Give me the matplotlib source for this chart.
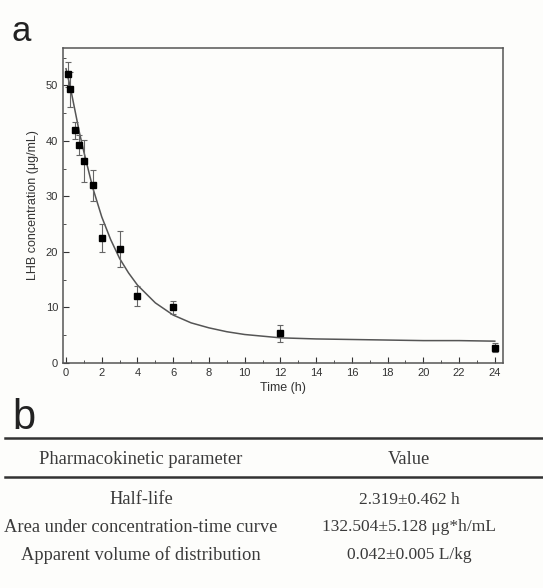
import matplotlib.pyplot as plt
import numpy as np

# measured LHB concentration (ug/mL) with SD
t = [0.083, 0.25, 0.5, 0.75, 1, 1.5, 2, 3, 4, 6, 12, 24]
conc = [52.0, 49.3, 41.9, 39.2, 36.3, 32.0, 22.5, 20.5, 12.1, 10.0, 5.3, 2.7]
sd = [2.3, 3.2, 1.5, 1.8, 3.8, 2.8, 2.5, 3.3, 1.8, 1.2, 1.5, 0.8]

# fitted curve
fit_t = [0, 0.25, 0.5, 0.75, 1, 1.5, 2, 2.5, 3, 3.5, 4, 5, 6, 7, 8, 9, 10, 11, 12, 14, 16, 18, 20, 22, 24]
fit_c = [53.0, 49.5, 45.5, 41.5, 38.0, 31.5, 26.3, 22.2, 18.8, 16.2, 14.0, 10.8, 8.6, 7.2, 6.3, 5.6, 5.1, 4.8, 4.5, 4.3, 4.2, 4.1, 4.0, 4.0, 3.9]

# table
params = ["Half-life", "Area under concentration-time curve", "Apparent volume of distribution"]
values = ["2.319\u00b10.462 h", "132.504\u00b15.128 \u03bcg*h/mL", "0.042\u00b10.005 L/kg"]

plt.rcParams['font.family'] = ['Liberation Sans', 'DejaVu Sans']

fig = plt.figure(figsize=(5.43, 5.88), dpi=100)
fig.patch.set_facecolor("#fdfdfb")
ax = fig.add_axes([0.116, 0.383, 0.810, 0.535])
ax.set_facecolor("#fdfdfb")

ax.plot(fit_t, fit_c, c="#555555", lw=1.1, zorder=2)
ax.errorbar(t, conc, yerr=sd, fmt="s", color="black", ms=5, ecolor="#666666",
            elinewidth=0.8, capsize=2.5, capthick=0.8, zorder=3)

ax.set_xlim(-0.17, 24.45)
ax.set_ylim(0, 56.7)
ax.set_xticks(range(0, 25, 2))
ax.set_xticks(range(0, 25, 1), minor=True)
ax.set_yticks(range(0, 51, 10))
ax.set_yticks(range(5, 56, 10), minor=True)
ax.tick_params(which="both", direction="in", top=False, right=False, labelsize=8, colors="#333333")
ax.tick_params(which="major", length=4)
ax.tick_params(which="minor", length=2.5)
for s in ax.spines.values():
    s.set_color("#555555")
    s.set_linewidth(1.1)
ax.set_xlabel("Time (h)", fontsize=9, color="#333333", labelpad=3)
ax.set_ylabel("LHB concentration (\u03bcg/mL)", fontsize=9, color="#333333", labelpad=5)

fig.text(0.022, 0.93, "a", fontsize=25, color="#222222")
fig.text(0.022, 0.27, "b", fontsize=30, color="#222222")

# table lines
H = 588
for y, lw in [(437.7, 1.8), (477, 1.8)]:
    fig.add_artist(plt.Line2D([0.01, 1.0], [1 - y / H, 1 - y / H], color="#333333", lw=lw))

serif = ['Liberation Serif', 'DejaVu Serif']
fs_left = 13.3
fs_right = 12.5
fig.text(141 / 543, 1 - 459 / H, "Pharmacokinetic parameter", family=serif, fontsize=fs_left,
         ha="center", va="center", color="#3a3a3a")
fig.text(409 / 543, 1 - 459 / H, "Value", family=serif, fontsize=fs_left,
         ha="center", va="center", color="#3a3a3a")
for i, (p, v) in enumerate(zip(params, values)):
    y = [500, 527, 555][i]
    fig.text(141 / 543, 1 - y / H, p, family=serif, fontsize=fs_left, ha="center", va="center", color="#3a3a3a")
    fig.text(409 / 543, 1 - y / H, v, family=serif, fontsize=fs_right, ha="center", va="center", color="#3a3a3a")

fig.savefig("out.png", dpi=100, facecolor=fig.get_facecolor())
